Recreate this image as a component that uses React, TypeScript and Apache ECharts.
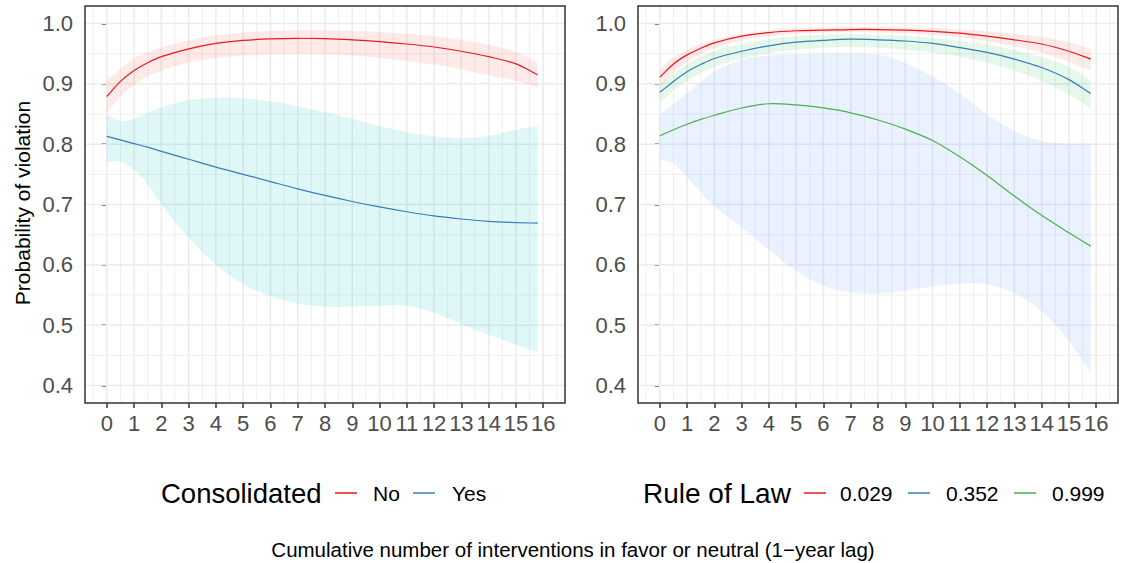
import React, { useEffect, useRef } from "react";
import * as echarts from "echarts";

// ---------- data ----------
const xs = [0, 0.5, 1, 1.5, 2, 3, 4, 5, 6, 7, 8, 9, 10, 11, 12, 13, 14, 15, 15.8];

// Left panel: Consolidated
const consNo = [0.879, 0.904, 0.922, 0.935, 0.945, 0.958, 0.967, 0.972, 0.9745, 0.9755, 0.975, 0.973, 0.970, 0.966, 0.961, 0.954, 0.945, 0.933, 0.915];
const consNoHi = [0.905, 0.925, 0.942, 0.952, 0.960, 0.972, 0.980, 0.985, 0.988, 0.989, 0.989, 0.988, 0.986, 0.983, 0.979, 0.973, 0.965, 0.953, 0.935];
const consNoLo = [0.852, 0.878, 0.898, 0.912, 0.922, 0.935, 0.943, 0.947, 0.949, 0.950, 0.949, 0.947, 0.943, 0.938, 0.932, 0.924, 0.914, 0.905, 0.894];

const consYes = [0.813, 0.807, 0.801, 0.795, 0.788, 0.775, 0.762, 0.750, 0.738, 0.726, 0.715, 0.705, 0.696, 0.688, 0.681, 0.676, 0.672, 0.670, 0.669];
const consYesHi = [0.849, 0.838, 0.842, 0.852, 0.861, 0.873, 0.877, 0.876, 0.871, 0.863, 0.853, 0.842, 0.830, 0.820, 0.813, 0.810, 0.814, 0.824, 0.830];
const consYesLo = [0.770, 0.771, 0.757, 0.733, 0.700, 0.645, 0.600, 0.568, 0.548, 0.536, 0.531, 0.531, 0.532, 0.532, 0.520, 0.502, 0.484, 0.468, 0.455];

// Right panel: Rule of Law
const rol029 = [0.911, 0.933, 0.948, 0.959, 0.968, 0.979, 0.985, 0.988, 0.989, 0.990, 0.990, 0.989, 0.987, 0.984, 0.979, 0.973, 0.966, 0.954, 0.941];
const rol029Hi = [0.925, 0.944, 0.957, 0.966, 0.973, 0.983, 0.989, 0.992, 0.993, 0.994, 0.994, 0.993, 0.992, 0.990, 0.987, 0.983, 0.978, 0.969, 0.957];
const rol029Lo = [0.894, 0.919, 0.936, 0.949, 0.959, 0.972, 0.979, 0.983, 0.985, 0.986, 0.985, 0.984, 0.981, 0.977, 0.970, 0.962, 0.952, 0.936, 0.922];

const rol352 = [0.886, 0.904, 0.920, 0.932, 0.942, 0.954, 0.963, 0.969, 0.972, 0.974, 0.973, 0.971, 0.967, 0.960, 0.952, 0.941, 0.927, 0.907, 0.884];
const rol352Hi = [0.898, 0.917, 0.933, 0.945, 0.955, 0.966, 0.974, 0.979, 0.981, 0.982, 0.981, 0.980, 0.976, 0.971, 0.965, 0.956, 0.944, 0.928, 0.905];
const rol352Lo = [0.868, 0.889, 0.905, 0.918, 0.928, 0.942, 0.951, 0.957, 0.960, 0.961, 0.960, 0.957, 0.952, 0.945, 0.935, 0.922, 0.905, 0.882, 0.860];

const rol999 = [0.814, 0.824, 0.833, 0.841, 0.848, 0.860, 0.867, 0.865, 0.860, 0.852, 0.840, 0.825, 0.806, 0.779, 0.748, 0.714, 0.682, 0.653, 0.631];
const rol999Hi = [0.849, 0.867, 0.885, 0.903, 0.920, 0.940, 0.947, 0.949, 0.950, 0.950, 0.948, 0.935, 0.912, 0.884, 0.849, 0.822, 0.805, 0.801, 0.801];
const rol999Lo = [0.775, 0.768, 0.745, 0.720, 0.697, 0.662, 0.625, 0.590, 0.565, 0.554, 0.552, 0.557, 0.564, 0.569, 0.568, 0.553, 0.523, 0.474, 0.420];

// ticks
const xTicks = [0, 1, 2, 3, 4, 5, 6, 7, 8, 9, 10, 11, 12, 13, 14, 15, 16];
const xMinor = [-0.5, 0.5, 1.5, 2.5, 3.5, 4.5, 5.5, 6.5, 7.5, 8.5, 9.5, 10.5, 11.5, 12.5, 13.5, 14.5, 15.5, 16.5];
const yTicks = [0.4, 0.5, 0.6, 0.7, 0.8, 0.9, 1.0];
const yMinor = [0.45, 0.55, 0.65, 0.75, 0.85, 0.95];

const leftLegendTitle = "Consolidated";
const leftLegendLabels = ["No", "Yes"];
const rightLegendTitle = "Rule of Law";
const rightLegendLabels = ["0.029", "0.352", "0.999"];

// ---------- styling ----------
const FONT = "'Liberation Sans', Arial, Helvetica, sans-serif";
const X_MIN = -0.8;
const X_MAX = 16.8;
const Y_MIN = 0.371;
const Y_MAX = 1.029;
const RED = "#E8191B";
const BLUE = "#377EB8";
const GREEN = "#4DAF4A";

function gridLines(gi: number, values: number[], dir: "v" | "h", width: number) {
  return {
    type: "custom",
    xAxisIndex: gi,
    yAxisIndex: gi,
    silent: true,
    z: 1,
    data: values.map((v) => (dir === "v" ? [v, 0.7] : [5, v])),
    renderItem: (params: any, api: any) => {
      const cs = params.coordSys;
      if (dir === "v") {
        const x = api.coord([api.value(0), 0.7])[0];
        return {
          type: "line",
          shape: { x1: x, y1: cs.y, x2: x, y2: cs.y + cs.height },
          style: { stroke: "#EBEBEB", lineWidth: width },
        };
      }
      const y = api.coord([5, api.value(1)])[1];
      return {
        type: "line",
        shape: { x1: cs.x, y1: y, x2: cs.x + cs.width, y2: y },
        style: { stroke: "#EBEBEB", lineWidth: width },
      };
    },
  };
}

// smooth cubic segments through pixel points (tangent from neighbours)
function smoothSegments(pts: number[][]): string {
  const n = pts.length;
  const m = pts.map((_, i) => {
    const a = pts[Math.max(0, i - 1)];
    const b = pts[Math.min(n - 1, i + 1)];
    return (b[1] - a[1]) / (b[0] - a[0]);
  });
  let d = "";
  for (let i = 0; i < n - 1; i++) {
    const dx = pts[i + 1][0] - pts[i][0];
    d +=
      " C " +
      (pts[i][0] + dx / 3) + " " + (pts[i][1] + (m[i] * dx) / 3) + " " +
      (pts[i + 1][0] - dx / 3) + " " + (pts[i + 1][1] - (m[i + 1] * dx) / 3) + " " +
      pts[i + 1][0] + " " + pts[i + 1][1];
  }
  return d;
}

function ribbon(gi: number, key: string, lo: number[], hi: number[], fill: string) {
  return {
    type: "custom",
    name: key + " band",
    xAxisIndex: gi,
    yAxisIndex: gi,
    silent: true,
    z: 2,
    data: xs.map((x, i) => [x, lo[i], hi[i]]),
    encode: { x: 0, y: [1, 2] },
    renderItem: (params: any, api: any) => {
      if (params.dataIndexInside !== 0) return null;
      const n = xs.length;
      const upper: number[][] = [];
      const lower: number[][] = [];
      for (let i = 0; i < n; i++) {
        upper.push(api.coord([api.value(0, i), api.value(2, i)]));
        lower.push(api.coord([api.value(0, i), api.value(1, i)]));
      }
      lower.reverse();
      const d =
        "M " + upper[0][0] + " " + upper[0][1] +
        smoothSegments(upper) +
        " L " + lower[0][0] + " " + lower[0][1] +
        smoothSegments(lower) +
        " Z";
      return { type: "path", shape: { pathData: d }, style: { fill, stroke: "none" } };
    },
  };
}

function curve(gi: number, name: string, ys: number[], color: string) {
  return {
    type: "custom",
    name,
    xAxisIndex: gi,
    yAxisIndex: gi,
    silent: true,
    z: 3,
    data: xs.map((x, i) => [x, ys[i]]),
    encode: { x: 0, y: 1 },
    renderItem: (params: any, api: any) => {
      if (params.dataIndexInside !== 0) return null;
      const pts: number[][] = [];
      for (let i = 0; i < xs.length; i++) pts.push(api.coord([api.value(0, i), api.value(1, i)]));
      const d = "M " + pts[0][0] + " " + pts[0][1] + smoothSegments(pts);
      return { type: "path", shape: { pathData: d }, style: { fill: "none", stroke: color, lineWidth: 1.2 } };
    },
  };
}

function xAxis(gi: number) {
  return {
    type: "value",
    gridIndex: gi,
    min: X_MIN,
    max: X_MAX,
    axisLine: { show: false },
    splitLine: { show: false },
    axisTick: { show: true, customValues: xTicks, length: 5, lineStyle: { color: "#333333", width: 1.5 } },
    axisLabel: { show: true, customValues: xTicks, margin: 9, color: "#4D4D4D", fontSize: 22, fontFamily: FONT },
  };
}

function yAxis(gi: number) {
  return {
    type: "value",
    gridIndex: gi,
    min: Y_MIN,
    max: Y_MAX,
    axisLine: { show: false },
    splitLine: { show: false },
    axisTick: { show: true, customValues: yTicks, length: 5, lineStyle: { color: "#333333", width: 1.5 } },
    axisLabel: {
      show: true,
      customValues: yTicks,
      margin: 12,
      color: "#4D4D4D",
      fontSize: 22,
      fontFamily: FONT,
      formatter: (v: number) => v.toFixed(1),
    },
  };
}

function legendText(x: number, text: string, size: number) {
  return {
    type: "text",
    x,
    y: 493,
    style: { text, fontSize: size, fontFamily: FONT, fill: "#000000", align: "left", verticalAlign: "middle" },
  };
}
function legendKey(x: number, color: string) {
  return {
    type: "line",
    shape: { x1: x, y1: 493, x2: x + 22, y2: 493 },
    style: { stroke: color, lineWidth: 1.5 },
  };
}

const option: any = {
  animation: false,
  backgroundColor: "#ffffff",
  grid: [
    { left: 85, top: 6, width: 480, height: 397, show: true, borderColor: "#333333", borderWidth: 1.5, z: 10 },
    { left: 638, top: 6, width: 480, height: 397, show: true, borderColor: "#333333", borderWidth: 1.5, z: 10 },
  ],
  xAxis: [xAxis(0), xAxis(1)],
  yAxis: [yAxis(0), yAxis(1)],
  series: [
    gridLines(0, xMinor, "v", 0.8),
    gridLines(0, yMinor, "h", 0.8),
    gridLines(0, xTicks, "v", 1.5),
    gridLines(0, yTicks, "h", 1.5),
    gridLines(1, xMinor, "v", 0.8),
    gridLines(1, yMinor, "h", 0.8),
    gridLines(1, xTicks, "v", 1.5),
    gridLines(1, yTicks, "h", 1.5),
    ribbon(0, "No", consNoLo, consNoHi, "rgba(248,118,109,0.15)"),
    ribbon(0, "Yes", consYesLo, consYesHi, "rgba(0,191,196,0.12)"),
    curve(0, "No", consNo, RED),
    curve(0, "Yes", consYes, BLUE),
    ribbon(1, "0.029", rol029Lo, rol029Hi, "rgba(248,118,109,0.15)"),
    ribbon(1, "0.352", rol352Lo, rol352Hi, "rgba(0,186,56,0.1)"),
    ribbon(1, "0.999", rol999Lo, rol999Hi, "rgba(97,156,255,0.13)"),
    curve(1, "0.029", rol029, RED),
    curve(1, "0.352", rol352, BLUE),
    curve(1, "0.999", rol999, GREEN),
  ],
  graphic: [
    {
      type: "text",
      x: 22,
      y: 203,
      rotation: Math.PI / 2,
      style: {
        text: "Probability of violation",
        fontSize: 21,
        fontFamily: FONT,
        fill: "#000000",
        align: "center",
        verticalAlign: "middle",
      },
    },
    {
      type: "text",
      x: 573,
      y: 549,
      style: {
        text: "Cumulative number of interventions in favor or neutral (1\u2212year lag)",
        fontSize: 20.5,
        fontFamily: FONT,
        fill: "#000000",
        align: "center",
        verticalAlign: "middle",
      },
    },
    legendText(161, leftLegendTitle, 27.5),
    legendKey(335, RED),
    legendText(373, leftLegendLabels[0], 21),
    legendKey(413, BLUE),
    legendText(452, leftLegendLabels[1], 21),
    legendText(643, rightLegendTitle, 28),
    legendKey(804, RED),
    legendText(840, rightLegendLabels[0], 21),
    legendKey(908, BLUE),
    legendText(946, rightLegendLabels[1], 21),
    legendKey(1014, GREEN),
    legendText(1052, rightLegendLabels[2], 21),
  ],
};

export default function App() {
  const ref = useRef<HTMLDivElement>(null);
  useEffect(() => {
    if (!ref.current) return;
    const chart = echarts.init(ref.current, null, { renderer: "svg" });
    chart.setOption(option);
    return () => chart.dispose();
  }, []);
  return <div ref={ref} style={{ position: "absolute", left: 0, top: 0, width: 1121, height: 563 }} />;
}
